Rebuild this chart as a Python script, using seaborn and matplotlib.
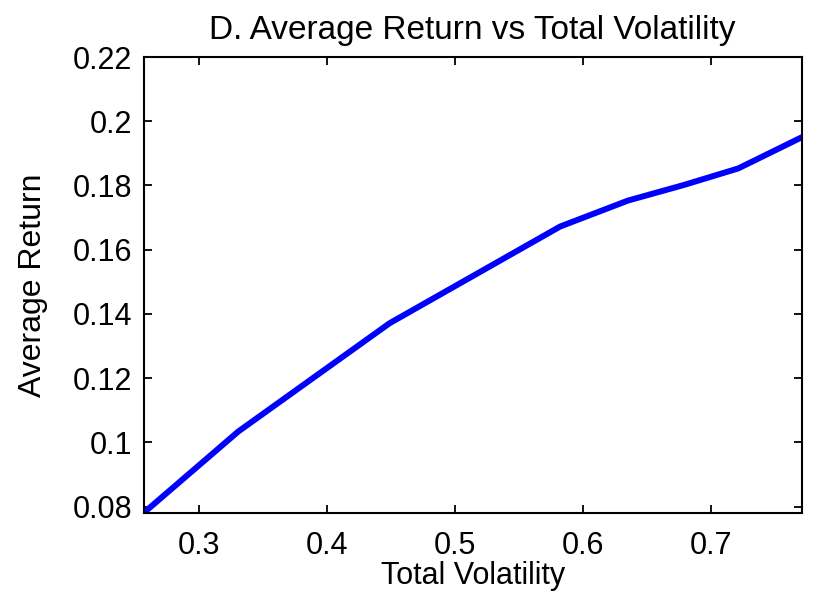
import matplotlib
matplotlib.use("Agg")
import matplotlib.pyplot as plt
import seaborn as sns
import pandas as pd

# Portfolio points: total volatility and average return
total_volatility = [0.257, 0.331, 0.449, 0.582, 0.635, 0.679, 0.721, 0.7705]
average_return = [0.078, 0.1034, 0.1371, 0.1672, 0.1753, 0.1802, 0.1853, 0.195]

x_ticks = [0.3, 0.4, 0.5, 0.6, 0.7]
x_tick_labels = ["0.3", "0.4", "0.5", "0.6", "0.7"]
y_ticks = [0.08, 0.10, 0.12, 0.14, 0.16, 0.18, 0.20, 0.22]
y_tick_labels = ["0.08", "0.1", "0.12", "0.14", "0.16", "0.18", "0.2", "0.22"]

df = pd.DataFrame({"Total Volatility": total_volatility,
                   "Average Return": average_return})

sns.set_theme(style="white")
plt.rcParams["font.family"] = ["Liberation Sans", "DejaVu Sans"]

fig = plt.figure(figsize=(8.14, 5.95), dpi=100)
ax = fig.add_axes([0.1763, 0.1378, 0.8086, 0.7664])

sns.lineplot(data=df, x="Total Volatility", y="Average Return", ax=ax,
             color="#0000ff", linewidth=4.3, sort=False, estimator=None)

ax.set_xlim(0.257, 0.7705)
ax.set_ylim(0.078, 0.22)
ax.set_xticks(x_ticks)
ax.set_xticklabels(x_tick_labels)
ax.set_yticks(y_ticks)
ax.set_yticklabels(y_tick_labels)

ax.tick_params(axis="both", which="both", direction="in", length=6, width=1.3,
               top=True, right=True, bottom=True, left=True,
               labelsize=22, colors="black")
ax.tick_params(axis="x", pad=13)
ax.tick_params(axis="y", pad=8)
for sp in ax.spines.values():
    sp.set_visible(True)
    sp.set_color("black")
    sp.set_linewidth(1.5)

ax.set_xlabel("Total Volatility", fontsize=22, color="black", labelpad=0)
ax.set_ylabel("Average Return", fontsize=23, color="black", labelpad=18)
ax.set_title("D. Average Return vs Total Volatility", fontsize=24,
             color="black", pad=13)

fig.savefig("out.png", dpi=100, facecolor="white")
